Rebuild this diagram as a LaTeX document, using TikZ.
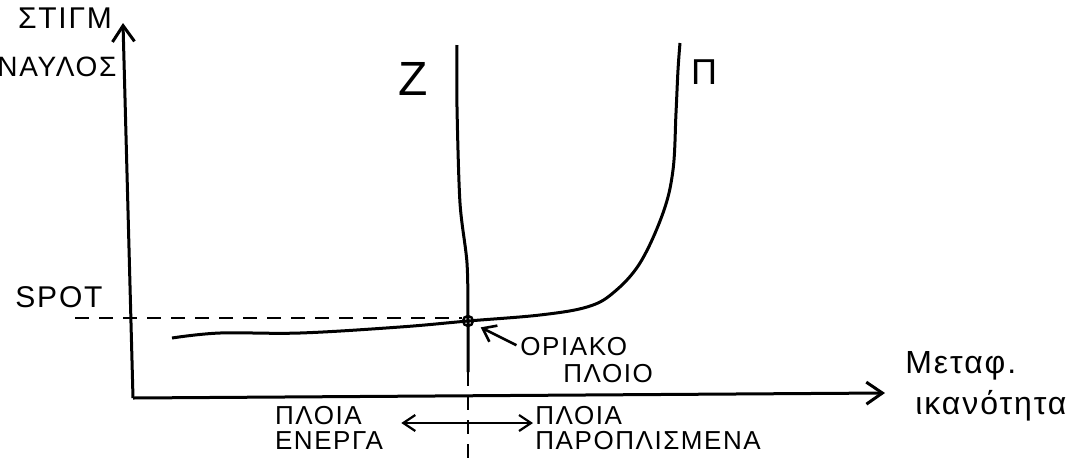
\documentclass[tikz,border=0pt]{standalone}
\usepackage{fontspec}
\setmainfont[LetterSpace=6]{Liberation Sans}
\usetikzlibrary{arrows.meta, positioning}

\begin{document}
\begin{tikzpicture}[
    x=0.5pt, y=-0.5pt,
    every node/.style={font=\fontsize{13}{12.5}\selectfont, inner sep=1pt},
    axis/.style={line width=1.5pt, -{Straight Barb[length=8pt, width=11pt]}},
    curve/.style={line width=1.5pt},
    guide/.style={line width=1pt, dash pattern=on 7pt off 5pt},
    pointer/.style={line width=1.3pt, -{Straight Barb[length=6pt, width=9pt]}},
    both/.style={line width=1.1pt, {Straight Barb[length=6pt, width=8pt]}-{Straight Barb[length=6pt, width=8pt]}},
    big/.style={font=\fontsize{15}{15}\selectfont}
]
\useasboundingbox (0,0) rectangle (1084,468);
% Axes
\coordinate (origin) at (133,398);
\coordinate (ytip) at (123,23);
\coordinate (xtip) at (885,393);
\draw[axis] (origin) -- (ytip);
\draw[axis] (origin) -- (xtip);
\node[big] (stigm) at (65,18) {ΣΤΙΓΜ};
\node[font=\fontsize{14}{14}\selectfont] (naylos) at (57,67) {ΝΑΥΛΟΣ};
\node[font=\fontsize{16}{16}\selectfont, anchor=west] (metaf) at (903,366) {Μεταφ.};
\node[font=\fontsize{16}{16}\selectfont, anchor=west] (ikan) at (913,406) {ικανότητα};
% Marginal ship
\node[circle, draw, line width=1.2pt, minimum size=5pt, inner sep=0pt] (m) at (468,321) {};
% Supply curve
\draw[curve] plot[smooth, tension=0.6] coordinates {(172,338) (220,333) (300,333) (400,327) (468,321) (540,315) (587,307) (613,293) (640,263) (663,213) (673,170) (676,113) (678,70) (680,43)};
\node[font=\fontsize{18}{18}\selectfont] (plabel) at (704,72) {Π};
% Demand line
\coordinate (zcut) at (468,372);
\coordinate (zbot) at (468,462);
\draw[curve] plot[smooth, tension=0.5] coordinates {(457,45) (457,107) (460,203) (467,263) (468,321) (468,372)};
\draw[guide] (zcut) -- (zbot);
\node[font=\fontsize{24}{24}\selectfont] (zlabel) at (413,79) {Ζ};
% Spot rate
\node[big] (spot) at (59,297) {SPOT};
\coordinate (spotL) at (75,318);
\draw[guide] (spotL) -- (spotL -| m.west);
% Labels
\node[anchor=west, inner sep=0pt] (oriako) at (520,347) {ΟΡΙΑΚΟ};
\node[anchor=west, inner sep=0pt] (ploio) at (563,374) {ΠΛΟΙΟ};
\draw[pointer, shorten <=2pt, shorten >=4pt] (oriako.west) -- (m);
% Ship groups
\node[align=left] (energa) at (329,428) {ΠΛΟΙΑ\\ΕΝΕΡΓΑ};
\node[align=left, anchor=west] (paropl) at (533,428) {ΠΛΟΙΑ\\ΠΑΡΟΠΛΙΣΜΕΝΑ};
\draw[both] ([xshift=8pt, yshift=2.5pt]energa.east) -- ([yshift=2.5pt]paropl.west);
\end{tikzpicture}
\end{document}
